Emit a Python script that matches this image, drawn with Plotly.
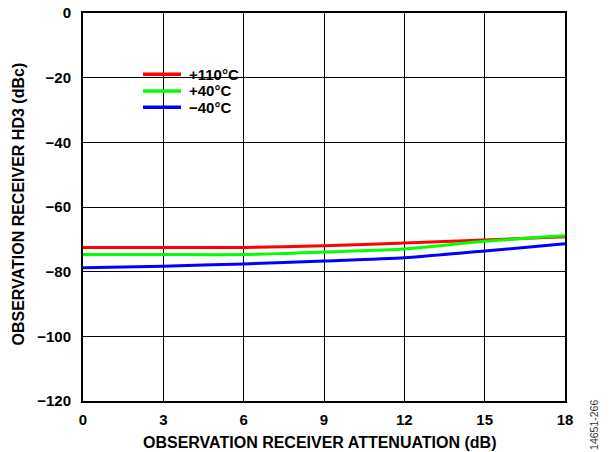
import plotly.graph_objects as go

atten = [0, 3, 6, 9, 12, 15, 18]
hd3_110 = [-72.5, -72.5, -72.5, -72.0, -71.1, -70.2, -69.2]
hd3_40 = [-74.7, -74.7, -74.7, -73.9, -73.0, -70.6, -68.9]
hd3_m40 = [-78.8, -78.3, -77.6, -76.7, -75.7, -73.6, -71.4]

y_ticks = [0, -20, -40, -60, -80, -100, -120]
y_labels = ["0", "\u221220", "\u221240", "\u221260", "\u221280", "\u2212100", "\u2212120"]
x_labels = ["0", "3", "6", "9", "12", "15", "18"]

series = [
    ("+110°C", hd3_110, "#ff0000"),
    ("+40°C", hd3_40, "#00ff00"),
    ("\u221240°C", hd3_m40, "#0000ff"),
]

FONT = "Liberation Sans, Arial, sans-serif"

fig = go.Figure()
for name, vals, col in series:
    fig.add_trace(go.Scatter(x=atten, y=vals, name=name, mode="lines", showlegend=False,
                             line=dict(color=col, width=3, shape="spline", smoothing=0.6)))

# page body has an 8px margin, so the figure is a bit smaller and shifted
fig.update_layout(
    width=602, height=444,
    margin=dict(l=75, r=45, t=5, b=51),
    paper_bgcolor="white", plot_bgcolor="white",
    font=dict(family=FONT, size=15, color="black"),
    xaxis=dict(range=[0, 18], tickvals=atten, ticktext=["<b>%s</b>" % t for t in x_labels],
               ticks="outside", ticklen=4, tickcolor="rgba(0,0,0,0)",
               showgrid=True, gridcolor="black", gridwidth=1,
               showline=True, linecolor="black", linewidth=2, mirror=True,
               zeroline=False, automargin=False, tickfont=dict(size=15),
               ticklabeloverflow="allow"),
    yaxis=dict(range=[-120, 0], tickvals=y_ticks, ticktext=["<b>%s</b>" % t for t in y_labels],
               ticks="outside", ticklen=7, tickcolor="rgba(0,0,0,0)",
               showgrid=True, gridcolor="black", gridwidth=1,
               showline=True, linecolor="black", linewidth=2, mirror=True,
               zeroline=False, automargin=False, tickfont=dict(size=15),
               ticklabeloverflow="allow"),
)

# axis titles
fig.add_annotation(text="<b>OBSERVATION RECEIVER ATTENUATION (dB)</b>", xref="paper", yref="paper",
                   x=0.4917, y=-0.1057, showarrow=False, font=dict(size=16),
                   xanchor="center", yanchor="middle")
fig.add_annotation(text="<b>OBSERVATION RECEIVER HD3 (dBc)</b>", xref="paper", yref="paper",
                   x=-0.1328, y=0.509, showarrow=False, textangle=-90, font=dict(size=16),
                   xanchor="center", yanchor="middle")
fig.add_annotation(text="14651-266", xref="paper", yref="paper", x=1.060, y=-0.0619,
                   showarrow=False, textangle=-90, font=dict(size=10.5, color="#333333"),
                   xanchor="center", yanchor="middle")

# legend box
fig.add_shape(type="rect", xref="paper", yref="paper", x0=0.1037, x1=0.3423, y0=0.7139, y1=0.8789,
              fillcolor="white", line=dict(width=0), layer="between")
leg_y = [0.842, 0.799, 0.757]
for (name, vals, col), ly in zip(series, leg_y):
    fig.add_shape(type="line", xref="paper", yref="paper", x0=0.1245, x1=0.2033, y0=ly, y1=ly,
                  line=dict(color=col, width=3.5))
    fig.add_annotation(text="<b>%s</b>" % name, xref="paper", yref="paper", x=0.2158, y=ly,
                       showarrow=False, xanchor="left", yanchor="middle", font=dict(size=15))

fig.write_html("out.html")
